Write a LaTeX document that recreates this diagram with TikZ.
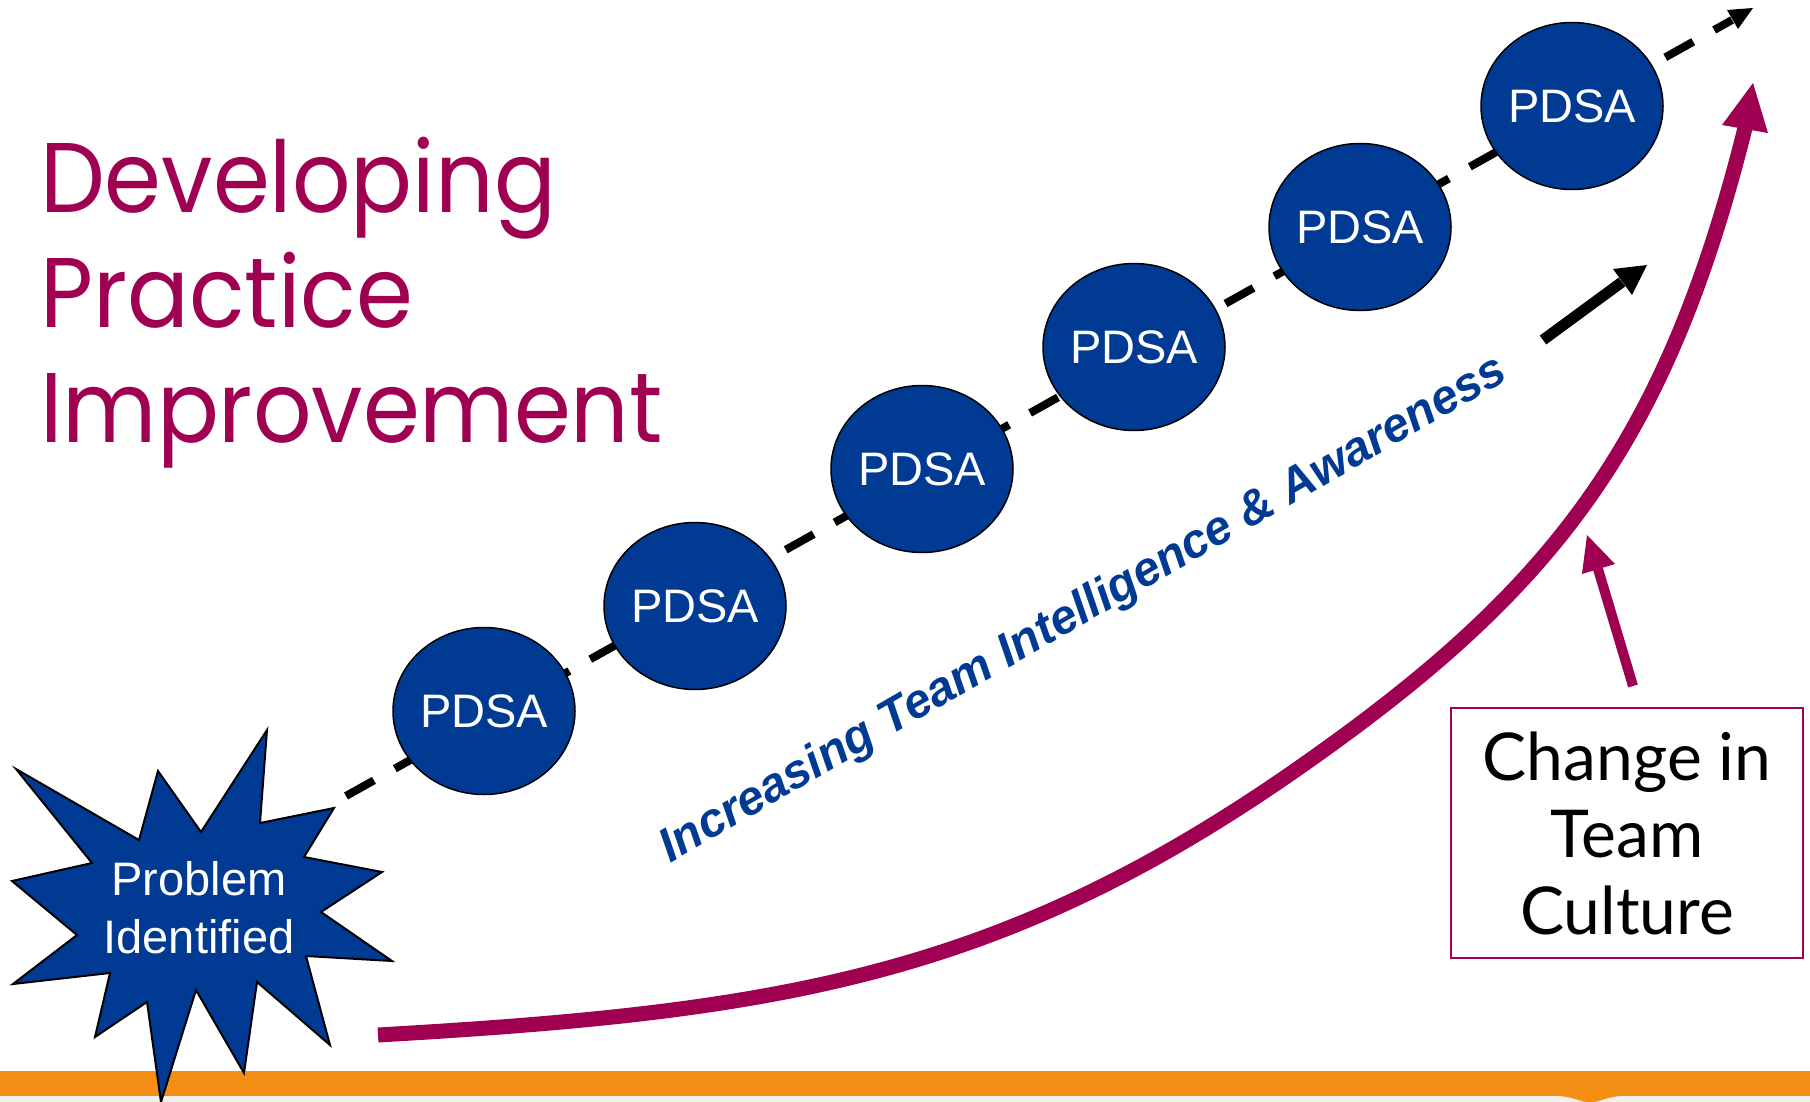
\documentclass[tikz,border=0pt]{standalone}
\usepackage{fontspec}
\setmainfont{Liberation Sans}
\newfontfamily\titlefont{Poppins}
\newfontfamily\boxfont{Lato}
\usetikzlibrary{shapes.geometric}
\definecolor{pdsablue}{RGB}{0,58,147}
\definecolor{plum}{RGB}{160,0,82}
\definecolor{barorange}{RGB}{245,142,20}
\definecolor{stripgray}{RGB}{240,240,240}
\tikzset{
  pdsa/.style={ellipse, draw=black, line width=1.5pt, fill=pdsablue,
    minimum width=182pt, minimum height=167pt, inner sep=0pt, text=white,
    font=\fontsize{47}{56}\selectfont},
  dashline/.style={draw=black, line width=8pt, dash pattern=on 32pt off 24pt},
  headfill/.style={fill=black},
  plumline/.style={draw=plum, line width=15pt},
}
\begin{document}
\begin{tikzpicture}[x=1pt,y=-1pt]
\useasboundingbox (0,0) rectangle (1810,1102);
\fill[white] (0,0) rectangle (1810,1102);
% bottom bars
\fill[stripgray] (0,1096) rectangle (1810,1102);
\fill[barorange] (0,1071) rectangle (1810,1096);
\fill[barorange] (1547,1095) .. controls (1575,1096) and (1580,1102) .. (1586,1102)
  -- (1594,1102) .. controls (1600,1102) and (1605,1096) .. (1633,1095) -- cycle;
% main culture curve
\coordinate (cstart) at (378,1035);
\coordinate (cmid) at (1300,767);
\coordinate (cend) at (1745,128);
\coordinate (ctip) at (1753,83);
\draw[plumline] (cstart) .. controls (778,1012) and (1000,977) .. (cmid)
  .. controls (1550,592) and (1665,448) .. (cend);
\fill[plum] (ctip) -- (1722,125) -- (1768,133) -- cycle;
% dashed path
\coordinate (dstart) at (346,796);
\coordinate (dend) at (1732,20);
\coordinate (dtip) at (1753,8);
\draw[dashline] (dstart) -- (dend);
\fill[headfill] (dtip) -- (1727,10) -- (1738,29) -- cycle;
% PDSA cycles
\node[pdsa] (p1) at (484,711) {PDSA};
\node[pdsa] (p2) at (695,606) {PDSA};
\node[pdsa] (p3) at (922,469) {PDSA};
\node[pdsa] (p4) at (1134,347) {PDSA};
\node[pdsa] (p5) at (1360,227) {PDSA};
\node[pdsa] (p6) at (1572,106) {PDSA};
% star
\fill[pdsablue, draw=black, line width=2pt, line join=miter]
 (16,769) -- (139,840) -- (158,771) -- (201,832) -- (267,730) -- (260,823)
 -- (334,808) -- (304,857) -- (382,872) -- (321,912) -- (392,961) -- (306,956)
 -- (330,1045) -- (257,982) -- (244,1073) -- (196,990) -- (161,1102) -- (147,1002)
 -- (95,1037) -- (110,973) -- (13,984) -- (77,935) -- (12,881) -- (92,863) -- cycle;
\node[text=white, align=center, inner sep=0pt, font=\fontsize{47}{58}\selectfont] (prob) at (199,908) {Problem\\Identified};
% title
\node[anchor=base west, align=left, inner sep=0pt, xscale=0.925, text=plum, font=\titlefont\fontsize{99}{115}\selectfont] (title) at (40,442) {Developing\\Practice\\Improvement};
% rotated label
\node[rotate=30, anchor=base, inner sep=0pt, text=pdsablue, font=\bfseries\itshape\fontsize{48}{56}\selectfont] (ita) at (1090,621) {Increasing Team Intelligence \& Awareness};
% black arrow
\coordinate (ba) at (1543,340);
\coordinate (bb) at (1622,282);
\coordinate (btip) at (1647,265);
\draw[black, line width=11pt] (ba) -- (bb);
\fill[headfill] (btip) -- (1613,269) -- (1632,295) -- cycle;
% culture box
\node[draw=plum, line width=2pt, minimum width=352pt, minimum height=250pt, inner sep=0pt, align=center, font=\boxfont\fontsize{66}{77}\selectfont] (cult) at (1627,833) {Change in\\Team\\Culture};
% small plum arrow
\coordinate (sa) at (1633,686);
\coordinate (sb) at (1598,569);
\coordinate (stip) at (1587,535);
\draw[plumline, line width=10pt] (sa) -- (sb);
\fill[plum] (stip) -- (1582,574) -- (1615,564) -- cycle;
\end{tikzpicture}
\end{document}
